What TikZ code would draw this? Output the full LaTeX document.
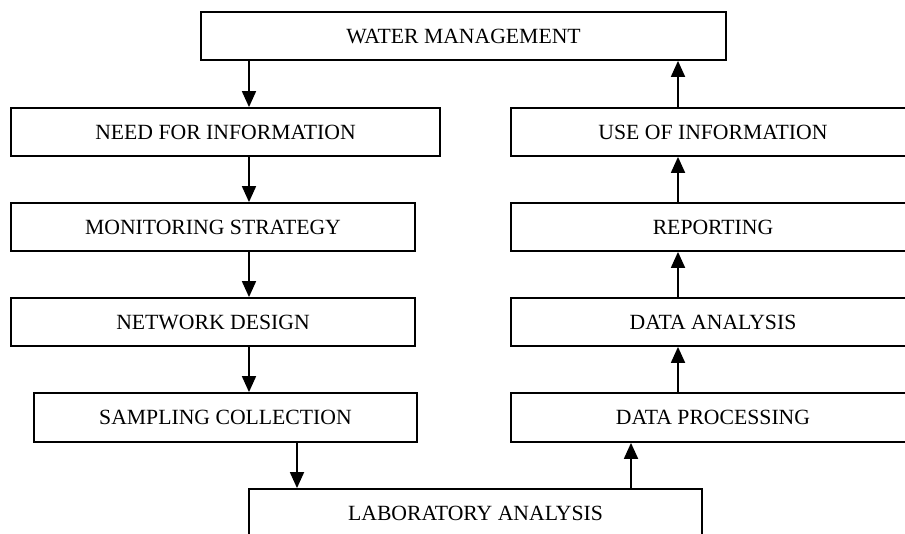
\documentclass[tikz,border=0pt]{standalone}
\usepackage{fontspec}
\setmainfont{Liberation Serif}
\usetikzlibrary{arrows.meta, positioning, calc}
\tikzset{
  every picture/.style={line width=1.8pt},
  box/.style={draw=black, rectangle, align=center, inner sep=0pt, minimum height=48pt, font=\fontsize{21.7}{25}\selectfont},
  arrow/.style={-{Triangle[length=16pt, width=14pt]}, draw=black, line width=1.8pt},
}
\begin{document}
\begin{tikzpicture}[x=1pt, y=1pt]
  \useasboundingbox (0,0) rectangle (905,-534);
  % ---- top
  \node[box, minimum width=525pt] (water) at (463.5,-36) {WATER MANAGEMENT};
  % ---- left column (going down)
  \node[box, minimum width=429pt] (need) at (225.5,-132) {NEED FOR INFORMATION};
  \node[box, minimum width=404pt] (strat) at (213,-227) {MONITORING STRATEGY};
  \node[box, minimum width=404pt] (net) at (213,-322) {NETWORK DESIGN};
  \node[box, minimum width=383pt, minimum height=49pt] (samp) at (225.5,-417.5) {SAMPLING COLLECTION};
  % ---- bottom
  \node[box, minimum width=453pt] (lab) at (475.5,-513) {LABORATORY ANALYSIS};
  % ---- right column (going up)
  \node[box, minimum width=404pt, minimum height=49pt] (proc) at (713,-417.5) {DATA PROCESSING};
  \node[box, minimum width=404pt] (anal) at (713,-322) {DATA ANALYSIS};
  \node[box, minimum width=404pt] (rep) at (713,-227) {REPORTING};
  \node[box, minimum width=404pt] (use) at (713,-132) {USE OF INFORMATION};
  % arrow lines
  \coordinate (lx) at (249,0);
  \coordinate (rx) at (678,0);
  \coordinate (sx) at (297,0);
  \coordinate (px) at (631,0);
  \draw[arrow] (water.south -| lx) -- (need.north -| lx);
  \draw[arrow] (need.south -| lx) -- (strat.north -| lx);
  \draw[arrow] (strat.south -| lx) -- (net.north -| lx);
  \draw[arrow] (net.south -| lx) -- (samp.north -| lx);
  \draw[arrow] (samp.south -| sx) -- (lab.north -| sx);
  \draw[arrow] (lab.north -| px) -- (proc.south -| px);
  \draw[arrow] (proc.north -| rx) -- (anal.south -| rx);
  \draw[arrow] (anal.north -| rx) -- (rep.south -| rx);
  \draw[arrow] (rep.north -| rx) -- (use.south -| rx);
  \draw[arrow] (use.north -| rx) -- (water.south -| rx);
\end{tikzpicture}
\end{document}
